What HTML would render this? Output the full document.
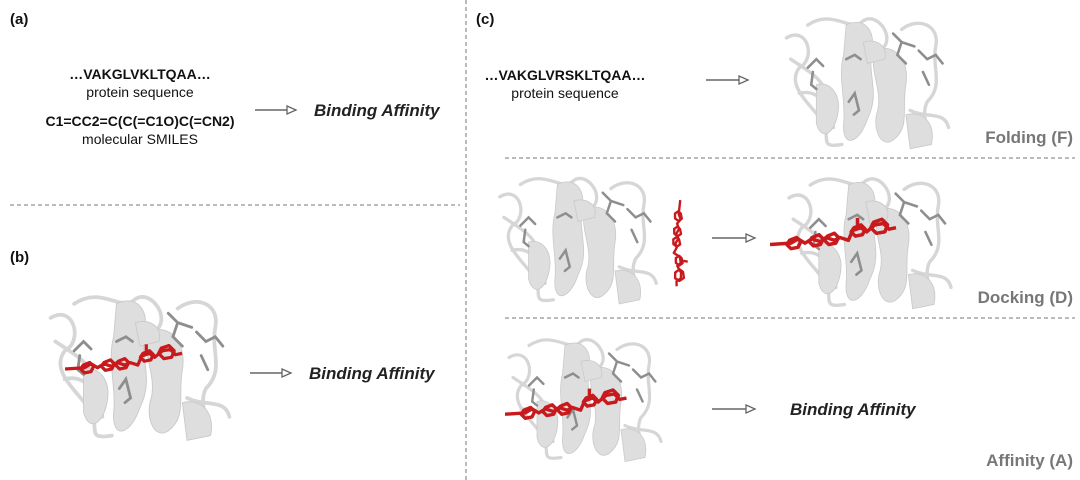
<!DOCTYPE html>
<html><head><meta charset="utf-8"><style>
html,body{margin:0;padding:0;background:#fff;width:1080px;height:480px;overflow:hidden}
svg text{font-family:"Liberation Sans",Arial,sans-serif}
</style></head><body>
<svg width="1080" height="480" viewBox="0 0 1080 480" xmlns="http://www.w3.org/2000/svg">
<defs>
<symbol id="prot" viewBox="0 0 200 170">
  <g fill="none" stroke="#d6d6d6" stroke-width="4" stroke-linecap="round">
    <path d="M5 35 C30 20 40 60 20 70 C5 90 30 110 45 130 C60 150 40 165 70 160"/>
    <path d="M30 20 C60 0 80 30 95 15 C110 5 130 30 120 45"/>
    <path d="M140 25 C160 10 185 20 180 45 C175 70 190 90 170 110 C160 130 180 150 160 160"/>
    <path d="M10 60 C40 80 60 90 45 120"/>
    <path d="M150 120 C170 130 190 120 195 140"/>
    <path d="M20 100 C40 95 55 110 60 140"/>
  </g>
  <g fill="#dedede" stroke="#cacaca" stroke-width="1">
    <path d="M75 20 C95 10 110 25 105 50 C100 80 115 100 100 130 C90 160 70 165 72 135 C75 110 65 80 72 55 Z"/>
    <path d="M110 50 C130 40 150 60 145 90 C140 120 150 140 130 155 C115 165 105 140 112 120 C118 95 100 70 110 50 Z"/>
    <path d="M40 90 C55 85 70 100 65 125 C60 150 45 155 40 135 Z"/>
    <path d="M145 125 C165 120 180 135 175 160 L150 165 Z"/>
    <path d="M95 40 C110 35 125 45 120 60 L100 65 Z"/>
  </g>
  <g stroke="#8e8e8e" stroke-width="3" fill="none" stroke-linecap="round">
    <path d="M30 70 L40 60 L48 68 M36 75 L34 90 L40 95"/>
    <path d="M75 60 L85 55 L92 60"/>
    <path d="M130 30 L140 40 L135 55 L145 65 M140 40 L155 45"/>
    <path d="M160 50 L170 60 L180 55 L188 65 M165 75 L172 90"/>
    <path d="M78 110 L85 100 L90 120 L84 125"/>
  </g>
</symbol>
<symbol id="lig" viewBox="0 0 200 60">
  <g stroke="#c8191c" stroke-width="5" fill="none" stroke-linejoin="round">
    <path d="M0 40 L30 38 L40 32 L50 38 L60 32 L72 36 L80 30 L92 34 L100 30 L112 34 L118 20 L130 16 L138 22 L150 12 L162 10 L170 18 L180 16"/>
    <polygon points="28,34 38,30 44,36 40,44 30,46 24,40"/>
    <polygon points="60,30 70,26 76,32 72,40 62,42 56,36"/>
    <polygon points="82,28 92,24 98,30 94,38 84,40 78,34"/>
    <polygon points="120,16 130,12 136,18 132,26 122,28 116,22"/>
    <polygon points="148,8 160,4 168,12 164,22 152,24 144,16"/>
    <path d="M125 12 L125 2"/>
  </g>
</symbol>
<marker id="ah" markerWidth="12" markerHeight="10" refX="10" refY="5" orient="auto" markerUnits="userSpaceOnUse">
  <path d="M1 1 L10 5 L1 9 Z" fill="#fff" stroke="#666" stroke-width="1.3"/>
</marker>
</defs>

<line x1="466" y1="0" x2="466" y2="480" stroke="#777" stroke-width="1" stroke-dasharray="4,3"/>
<line x1="10" y1="205" x2="460" y2="205" stroke="#777" stroke-width="1" stroke-dasharray="4,3"/>
<line x1="505" y1="158" x2="1075" y2="158" stroke="#777" stroke-width="1" stroke-dasharray="4,3"/>
<line x1="505" y1="318" x2="1075" y2="318" stroke="#777" stroke-width="1" stroke-dasharray="4,3"/>

<g font-size="15" font-weight="bold" fill="#111">
<text x="10" y="24">(a)</text>
<text x="10" y="262">(b)</text>
<text x="476" y="24">(c)</text>
</g>

<g text-anchor="middle" fill="#111" font-size="14">
<text x="140" y="79" font-weight="bold">…VAKGLVKLTQAA…</text>
<text x="140" y="97">protein sequence</text>
<text x="140" y="126" font-weight="bold">C1=CC2=C(C(=C1O)C(=CN2)</text>
<text x="140" y="144">molecular SMILES</text>
<text x="565" y="80" font-weight="bold">…VAKGLVRSKLTQAA…</text>
<text x="565" y="98">protein sequence</text>
</g>

<g stroke="#666" stroke-width="1.5" marker-end="url(#ah)">
<line x1="255" y1="110" x2="296" y2="110"/>
<line x1="250" y1="373" x2="291" y2="373"/>
<line x1="706" y1="80" x2="748" y2="80"/>
<line x1="712" y1="238" x2="755" y2="238"/>
<line x1="712" y1="409" x2="755" y2="409"/>
</g>

<g font-size="17" font-weight="bold" font-style="italic" fill="#222">
<text x="314" y="116">Binding Affinity</text>
<text x="309" y="379">Binding Affinity</text>
<text x="790" y="415">Binding Affinity</text>
</g>
<g font-size="17" font-weight="bold" fill="#777" text-anchor="end">
<text x="1073" y="143">Folding (F)</text>
<text x="1073" y="303">Docking (D)</text>
<text x="1073" y="466">Affinity (A)</text>
</g>

<use href="#prot" x="40" y="285" width="200" height="160"/>
<use href="#lig" x="65" y="340" width="130" height="45"/>

<use href="#prot" x="775" y="8" width="185" height="145"/>

<use href="#prot" x="493" y="168" width="170" height="140"/>
<g transform="translate(680,200) rotate(100)">
<use href="#lig" x="0" y="-20" width="95" height="30"/>
</g>
<use href="#prot" x="770" y="168" width="200" height="145"/>
<use href="#lig" x="770" y="215" width="140" height="45"/>

<use href="#prot" x="505" y="325" width="160" height="145"/>
<use href="#lig" x="505" y="385" width="135" height="45"/>
</svg>
</body></html>
